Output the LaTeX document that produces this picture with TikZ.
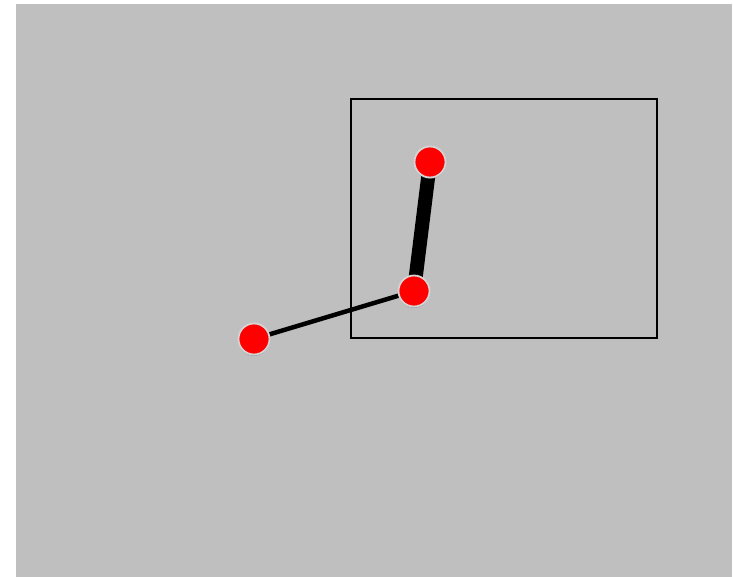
\documentclass[tikz,border=0pt]{standalone}
\usetikzlibrary{shadows}
\definecolor{bg}{HTML}{BFBFBF}
\definecolor{ring}{HTML}{D4D4D4}
\tikzset{
  dot/.style={circle,fill=red,draw=ring,line width=1.8pt,minimum size=31pt,inner sep=0pt,
    drop shadow={shadow xshift=0pt,shadow yshift=-1.5pt,opacity=0.35,fill=black!60}},
  frame/.style={draw=black,line width=1.3pt},
  thick link/.style={draw=black,line width=14pt},
  thin link/.style={draw=black,line width=4.5pt}
}
\begin{document}
\begin{tikzpicture}[x=1pt,y=-1pt]
\useasboundingbox (0,0) rectangle (733,577);
\fill[bg] (16,4) rectangle (732,577);
\draw[frame] (351,99) rectangle (657,338);
\coordinate (a) at (430,162);
\coordinate (b) at (414,291);
\coordinate (c) at (254,339);
\draw[thick link] (a) -- (b);
\draw[thin link] (c) -- (b);
\node[dot] (na) at (a) {};
\node[dot] (nb) at (b) {};
\node[dot] (nc) at (c) {};
\end{tikzpicture}
\end{document}
